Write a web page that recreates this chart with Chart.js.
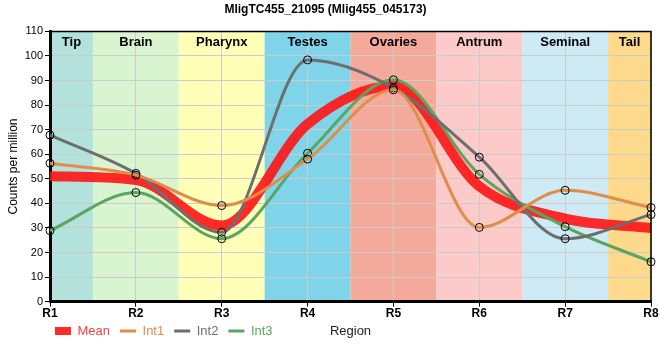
<!DOCTYPE html>
<html>
<head>
<meta charset="utf-8">
<script src="https://cdn.jsdelivr.net/npm/chart.js@4"></script>
<style>
  body { margin: 0; background: #fff; }
  #wrap { width: 660px; height: 360px; }
</style>
</head>
<body>
<div id="wrap"><canvas id="chart" width="660" height="360"></canvas></div>
<script>
const regions = ['R1', 'R2', 'R3', 'R4', 'R5', 'R6', 'R7', 'R8'];
const bands = ['Tip', 'Brain', 'Pharynx', 'Testes', 'Ovaries', 'Antrum', 'Seminal', 'Tail'];
const bandColors = ['#b3e2dd', '#d9f5d0', '#ffffb7', '#7fd4ea', '#f4aa9b', '#fdcaca', '#ceeaf4', '#fcd98b'];
const meanVals = [51, 49.5, 31, 72.3, 87.8, 46.9, 33.8, 30];
const int1 = [56.3, 51.5, 39.1, 58, 86.2, 30.2, 45.3, 38.3];
const int2 = [67.8, 52.2, 28.2, 98.4, 87, 58.8, 25.6, 35.4];
const int3 = [28.9, 44.4, 25.6, 60.4, 90.3, 51.8, 30.5, 16.2];
const yMax = 110;
const yStep = 10;

const font = "'Liberation Sans', Arial, sans-serif";
const legendRowY = 331;

// background bands + labels
const bandPlugin = {
  id: 'bands',
  afterLayout(chart) {
    // pull legend up so it shares a row with the axis title
    const lg = chart.legend;
    const dy = (lg.top + 10 + 6.5) - legendRowY;
    lg.top -= dy;
    lg.bottom -= dy;
    lg.left -= 5;
    lg.right -= 5;
  },
  beforeDraw(chart) {
    const ctx = chart.ctx, a = chart.chartArea, x = chart.scales.x;
    ctx.save();
    bands.forEach((b, i) => {
      let x0 = Math.max(a.left, x.getPixelForValue(i - 0.5));
      let x1 = Math.min(a.right, x.getPixelForValue(i + 0.5));
      ctx.fillStyle = bandColors[i];
      ctx.fillRect(x0, a.top, x1 - x0, a.bottom - a.top);
    });
    ctx.restore();
  },
  afterDraw(chart) {
    const ctx = chart.ctx, a = chart.chartArea, x = chart.scales.x;
    ctx.save();
    ctx.font = 'bold 13px ' + font;
    ctx.fillStyle = '#000';
    ctx.textAlign = 'center';
    ctx.textBaseline = 'middle';
    bands.forEach((b, i) => {
      let x0 = Math.max(a.left, x.getPixelForValue(i - 0.5));
      let x1 = Math.min(a.right, x.getPixelForValue(i + 0.5));
      ctx.fillText(b, (x0 + x1) / 2, a.top + 11);
    });
    // top / right frame
    ctx.strokeStyle = '#000';
    ctx.lineWidth = 1.5;
    ctx.beginPath();
    ctx.moveTo(a.left, a.top);
    ctx.lineTo(a.right, a.top);
    ctx.lineTo(a.right, a.bottom);
    ctx.stroke();
    // x axis title, same row as legend
    ctx.font = '13px ' + font;
    ctx.fillStyle = '#222';
    ctx.fillText('Region', (a.left + a.right) / 2, legendRowY);
    ctx.restore();
  }
};

function line(label, data, color, width, pts) {
  return {
    label: label,
    data: data,
    borderColor: color,
    backgroundColor: color,
    borderWidth: width,
    cubicInterpolationMode: 'monotone',
    pointRadius: pts ? 4 : 0,
    pointBackgroundColor: 'rgba(0,0,0,0)',
    pointBorderColor: '#000',
    pointBorderWidth: 1,
    order: pts ? 0 : 1,   // mean goes underneath
    fill: false
  };
}

new Chart(document.getElementById('chart'), {
  type: 'line',
  data: {
    labels: regions,
    datasets: [
      line('Mean', meanVals, 'rgba(255,20,20,0.9)', 10, false),
      line('Int1', int1, 'rgb(224,141,74)', 3, true),
      line('Int2', int2, '#6e6e6e', 3, true),
      line('Int3', int3, '#5aa55f', 3, true)
    ]
  },
  options: {
    responsive: false,
    animation: false,
    layout: { padding: { left: 0, right: 9, top: 0, bottom: 6 } },
    plugins: {
      title: {
        display: true,
        text: 'MligTC455_21095 (Mlig455_045173)',
        color: '#000',
        font: { family: font, size: 12, weight: 'bold' },
        padding: { top: 2, bottom: 15 }
      },
      legend: {
        position: 'bottom',
        align: 'start',
        fullSize: false,
        labels: {
          usePointStyle: true,
          pointStyleWidth: 16,
          padding: 10,
          font: { family: font, size: 13 },
          generateLabels(chart) {
            return chart.data.datasets.map((d, i) => ({
              text: d.label,
              fillStyle: d.borderColor,
              strokeStyle: d.borderColor,
              fontColor: i === 0 ? '#ff4040' : d.borderColor,
              lineWidth: i === 0 ? 8 : 3,
              pointStyle: 'line',
              datasetIndex: i,
              hidden: false
            }));
          }
        }
      },
      tooltip: { enabled: false }
    },
    scales: {
      x: {
        offset: false,
        grid: { color: '#cccccc', tickColor: '#000', tickLength: 5 },
        border: { color: '#000', width: 3 },
        ticks: { color: '#000', font: { family: font, size: 12, weight: 'bold' }, padding: 0 }
      },
      y: {
        min: 0,
        max: yMax,
        grid: { color: '#cccccc', tickColor: '#000', tickLength: 5 },
        border: { color: '#000', width: 3 },
        ticks: { stepSize: yStep, color: '#000', font: { family: font, size: 11 }, padding: 2 },
        title: { display: true, text: 'Counts per million', color: '#000', font: { family: font, size: 12 }, padding: { top: 6, bottom: 0 } },
        afterFit(s) { s.width = 50; }
      }
    }
  },
  plugins: [bandPlugin]
});
</script>
</body>
</html>
